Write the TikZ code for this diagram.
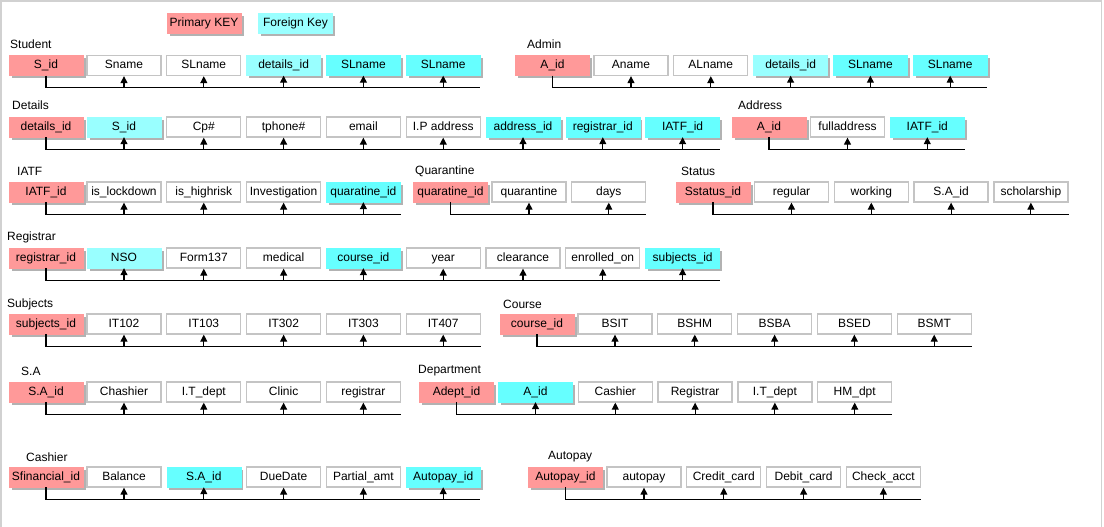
\documentclass[tikz,border=0pt]{standalone}
\usepackage{fontspec}
\setmainfont{Liberation Sans}
\usetikzlibrary{arrows.meta,shadows,calc}
\definecolor{pinkc}{HTML}{FF9999}
\definecolor{cyand}{HTML}{66FFFF}
\definecolor{cyanl}{HTML}{99FFFF}
\definecolor{boxgray}{HTML}{C4C4C4}
\tikzset{
  fld/.style={minimum width=74pt,minimum height=20pt,inner sep=0pt,text height=9pt,text depth=2.5pt,font=\fontsize{12}{14}\selectfont},
  attr/.style={fld,fill=white,draw=boxgray,line width=1.3pt},
  keyshadow/.style={drop shadow={shadow xshift=2.5pt,shadow yshift=-2.5pt,fill=black!30,opacity=1}},
  pk/.style={fld,fill=pinkc,draw=pinkc,keyshadow},
  fk/.style={fld,fill=cyand,draw=cyand,keyshadow},
  fkl/.style={fld,fill=cyanl,draw=cyanl,keyshadow},
  title/.style={anchor=west,inner sep=0pt,font=\fontsize{12}{14}\selectfont},
  conn/.style={draw=black,line width=1.1pt},
  arr/.style={draw=black,line width=1.1pt,-{Triangle[width=7pt,length=7pt]}}
}
\newcommand\ertable[6]{%
  \node[pk] (#1-0) at (#2,#3) {#4};
  \foreach \s/\t [count=\i] in {#6} {
    \node[\s] (#1-\i) at ({#5+79.8*(\i-1)},#3) {\t};
    \draw[arr] ($(#1-\i.south)+(0,12)$) -- (#1-\i.south);
    \xdef\lastidx{\i}
  }
  \draw[conn] (#1-0.south) |- ($(#1-\lastidx.south east)+(0,12)$);
}
\begin{document}
\begin{tikzpicture}[x=1pt,y=-1pt]
\useasboundingbox (0,0) rectangle (1104,527);
\draw[black!18,line width=1.5pt] (1,527) -- (1,1) -- (1101.5,1) -- (1101.5,527);
% legend
\node[pk] (legpk) at (204,23.5) {Primary KEY};
\node[fkl] (legfk) at (295.5,23.5) {Foreign Key};
% titles
\node[title] (tStudent) at (10,44) {Student};
\node[title] (tAdmin) at (527,44) {Admin};
\node[title] (tDetails) at (12,105) {Details};
\node[title] (tAddress) at (738,105) {Address};
\node[title] (tIATF) at (17,171) {IATF};
\node[title] (tQuarantine) at (415,171) {Quarantine};
\node[title] (tStatus) at (681,171) {Status};
\node[title] (tRegistrar) at (7,237) {Registrar};
\node[title] (tSubjects) at (7,304) {Subjects};
\node[title] (tCourse) at (503,304) {Course};
\node[title] (tSA) at (21,371) {S.A};
\node[title] (tDepartment) at (418,371) {Department};
\node[title] (tCashier) at (26,457) {Cashier};
\node[title] (tAutopay) at (548,457) {Autopay};
% tables
\ertable{stu}{46}{65.5}{S\_id}{124}{attr/Sname, attr/SLname, fkl/details\_id, fk/SLname, fk/SLname}
\ertable{adm}{552.5}{65.5}{A\_id}{631}{attr/Aname, attr/ALname, fkl/details\_id, fk/SLname, fk/SLname}
\ertable{det}{46}{127}{details\_id}{124}{fkl/S\_id, attr/Cp\#, attr/tphone\#, attr/email, attr/I.P address, fk/address\_id, fk/registrar\_id, fk/IATF\_id}
\ertable{adr}{769}{127}{A\_id}{847.5}{attr/fulladdress, fk/IATF\_id}
\ertable{iat}{46}{192}{IATF\_id}{124}{attr/is\_lockdown, attr/is\_highrisk, attr/Investigation, fk/quaratine\_id}
\ertable{qua}{450.5}{192}{quaratine\_id}{529}{attr/quarantine, attr/days}
\ertable{sta}{713}{192}{Sstatus\_id}{791.5}{attr/regular, attr/working, attr/S.A\_id, attr/scholarship}
\ertable{reg}{46}{258}{registrar\_id}{124}{fkl/NSO, attr/Form137, attr/medical, fk/course\_id, attr/year, attr/clearance, attr/enrolled\_on, fk/subjects\_id}
\ertable{sub}{46}{324}{subjects\_id}{124}{attr/IT102, attr/IT103, attr/IT302, attr/IT303, attr/IT407}
\ertable{cou}{537}{324}{course\_id}{615}{attr/BSIT, attr/BSHM, attr/BSBA, attr/BSED, attr/BSMT}
\ertable{sa}{46}{392}{S.A\_id}{124}{attr/Chashier, attr/I.T\_dept, attr/Clinic, attr/registrar}
\ertable{dep}{456.5}{392}{Adept\_id}{535.5}{fk/A\_id, attr/Cashier, attr/Registrar, attr/I.T\_dept, attr/HM\_dpt}
\ertable{cas}{46}{477}{Sfinancial\_id}{124}{attr/Balance, fk/S.A\_id, attr/DueDate, attr/Partial\_amt, fk/Autopay\_id}
\ertable{aut}{565.5}{477}{Autopay\_id}{644}{attr/autopay, attr/Credit\_card, attr/Debit\_card, attr/Check\_acct}
\end{tikzpicture}
\end{document}
